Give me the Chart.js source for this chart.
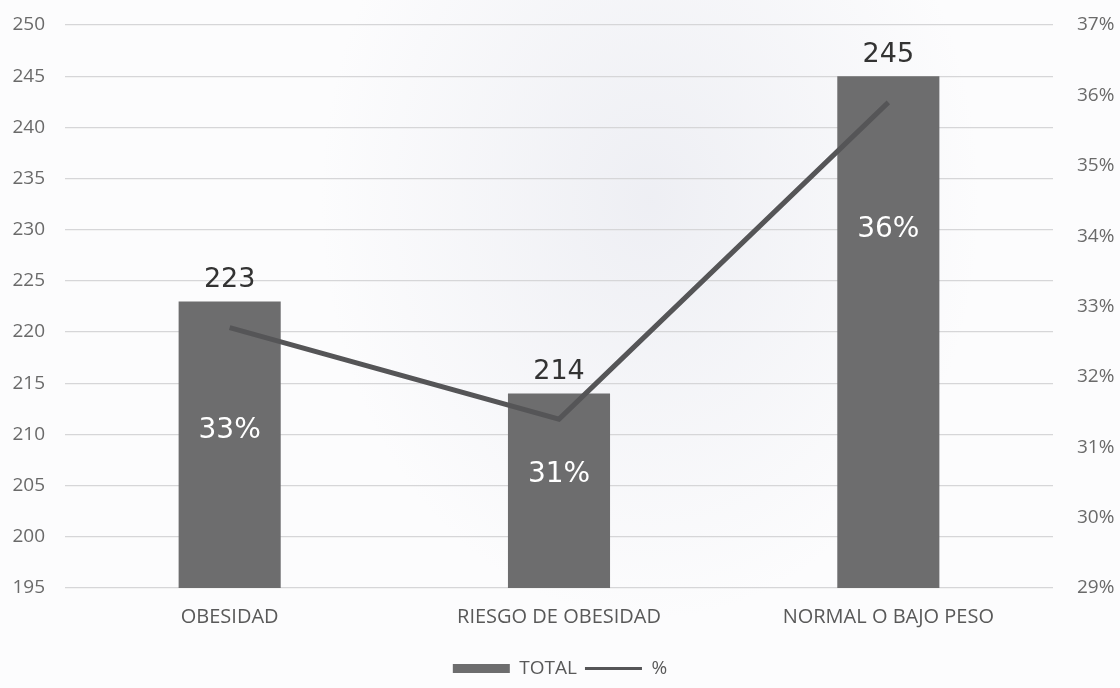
<!DOCTYPE html>
<html>
<head>
<meta charset="utf-8">
<script src="https://cdn.jsdelivr.net/npm/chart.js@4.4.1/dist/chart.umd.min.js"></script>
<style>
  html, body { margin: 0; padding: 0; }
  body {
    width: 1120px; height: 688px; overflow: hidden;
    background:
      radial-gradient(ellipse 330px 420px at 650px 200px, rgba(205,208,222,0.30), rgba(255,255,255,0) 100%),
      #fcfcfd;
  }
  #wrap { position: relative; width: 1120px; height: 688px; }
</style>
</head>
<body>
<div id="wrap"><canvas id="chart" width="1120" height="688"></canvas></div>
<script>
// chart data
const categories = ['OBESIDAD', 'RIESGO DE OBESIDAD', 'NORMAL O BAJO PESO'];
const totals = [223, 214, 245];
const percents = [32.7, 31.4, 35.9];

const leftTicks = { min: 195, max: 250, step: 5 };
const rightTicks = { min: 29, max: 37, step: 1 };

// where the white % label sits inside each bar (fraction of bar height from top)
const pctLabelPos = [0.45, 0.42, 0.30];

const labelFont = '"DejaVu Sans", sans-serif';
const tickFont = '"Open Sans", sans-serif';

// draws the numbers above the bars and the % inside them
const barLabels = {
  id: 'barLabels',
  afterDatasetsDraw(chart) {
    const c = chart.ctx;
    const meta = chart.getDatasetMeta(0);
    const yScale = chart.scales.y;
    const base = yScale.getPixelForValue(leftTicks.min);
    c.save();
    c.textAlign = 'center';
    meta.data.forEach((bar, i) => {
      const top = yScale.getPixelForValue(totals[i]);
      c.font = '27px ' + labelFont;
      c.fillStyle = '#333333';
      c.textBaseline = 'bottom';
      c.fillText(String(totals[i]), bar.x, top - 8);

      const h = base - top;
      c.font = '28px ' + labelFont;
      c.fillStyle = '#ffffff';
      c.textBaseline = 'middle';
      c.fillText(Math.round(percents[i]) + '%', bar.x, top + h * pctLabelPos[i]);
    });
    c.restore();
  }
};

const ctx = document.getElementById('chart').getContext('2d');
const chart = new Chart(ctx, {
  type: 'bar',
  data: {
    labels: categories,
    datasets: [
      {
        label: 'TOTAL',
        data: totals,
        backgroundColor: '#6d6d6e',
        yAxisID: 'y',
        order: 2,
        barPercentage: 0.62,
        categoryPercentage: 0.5
      },
      {
        type: 'line',
        label: '%',
        data: percents,
        borderColor: '#555557',
        backgroundColor: '#555557',
        borderWidth: 5,
        pointRadius: 0,
        tension: 0,
        yAxisID: 'y1',
        order: 1
      }
    ]
  },
  options: {
    responsive: false,
    animation: false,
    devicePixelRatio: 1,
    layout: { autoPadding: false, padding: { top: 25, left: 0, right: 0, bottom: 0 } },
    plugins: {
      tooltip: { enabled: false },
      legend: {
        position: 'bottom',
        labels: {
          usePointStyle: true,
          pointStyleWidth: 57,
          boxHeight: 9,
          padding: 8,
          color: '#595959',
          font: { size: 19, family: tickFont },
          sort: (a, b) => a.datasetIndex - b.datasetIndex,
          generateLabels(chart) {
            const items = Chart.defaults.plugins.legend.labels.generateLabels(chart);
            items.forEach(it => {
              if (it.datasetIndex === 0) {
                it.pointStyle = 'rect';
                it.lineWidth = 0;
              } else {
                it.pointStyle = 'line';
                it.lineWidth = 3;
              }
            });
            return items;
          }
        }
      }
    },
    scales: {
      x: {
        grid: { display: false },
        border: { display: false },
        ticks: {
          color: '#595959',
          padding: 9,
          maxRotation: 0,
          font: { size: 20, family: tickFont }
        },
        afterFit(scale) { scale.height = 63; }
      },
      y: {
        position: 'left',
        min: leftTicks.min,
        max: leftTicks.max,
        ticks: {
          stepSize: leftTicks.step,
          color: '#6a6a6a',
          padding: 20,
          font: { size: 19, family: tickFont }
        },
        grid: { color: '#d6d6d8', lineWidth: 1.3, drawTicks: false },
        border: { display: false },
        afterFit(scale) { scale.width = 65; scale.paddingTop = 0; scale.paddingBottom = 0; }
      },
      y1: {
        position: 'right',
        min: rightTicks.min,
        max: rightTicks.max,
        ticks: {
          stepSize: rightTicks.step,
          color: '#6a6a6a',
          padding: 24,
          font: { size: 19, family: tickFont },
          callback: v => v + '%'
        },
        grid: { display: false, drawTicks: false },
        border: { display: false },
        afterFit(scale) { scale.width = 67; scale.paddingTop = 0; scale.paddingBottom = 0; }
      }
    }
  },
  plugins: [barLabels]
});
</script>
</body>
</html>
